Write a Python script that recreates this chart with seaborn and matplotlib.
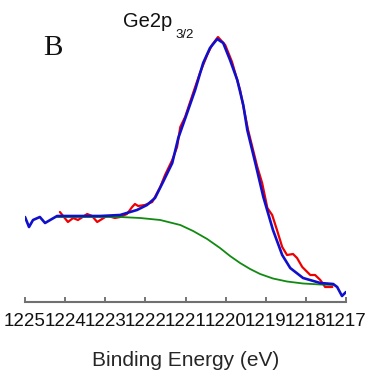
import matplotlib
matplotlib.use("Agg")
import matplotlib.pyplot as plt
import seaborn as sns
import pandas as pd

# Raw spectrum (red)
data_energy = [1224.13, 1223.93, 1223.80, 1223.68, 1223.45, 1223.33, 1223.20, 1223.00,
               1222.93, 1222.76, 1222.63, 1222.46, 1222.33, 1222.26, 1222.18, 1222.01,
               1221.83, 1221.76, 1221.63, 1221.51, 1221.33, 1221.21, 1221.13, 1221.01,
               1220.81, 1220.64, 1220.46, 1220.34, 1220.19, 1220.01, 1219.84, 1219.64,
               1219.44, 1219.21, 1219.09, 1218.96, 1218.84, 1218.72, 1218.59, 1218.47,
               1218.32, 1218.22, 1218.09, 1217.89, 1217.77, 1217.64, 1217.52, 1217.34]
data_intensity = [90, 80, 84, 82, 88, 86, 80, 85,
                  86, 84, 85, 88, 95, 98, 96, 97,
                  100, 105, 115, 127, 142, 155, 175, 185,
                  209, 229, 247, 257, 265, 257, 240, 212,
                  172, 135, 119, 94, 87, 72, 55, 47,
                  48, 44, 35, 27, 27, 22, 15, 15]

# Fit envelope (blue), including the raw edges outside the fit window
fit_energy = [1225.00, 1224.90, 1224.80, 1224.63, 1224.50, 1224.33, 1224.20,
              1223.63, 1223.13, 1222.63, 1222.38, 1222.21, 1221.96, 1221.76, 1221.56,
              1221.33, 1221.18, 1220.96, 1220.76, 1220.56, 1220.39, 1220.21,
              1220.06, 1219.89, 1219.71, 1219.56, 1219.46, 1219.26, 1219.06, 1218.82,
              1218.59, 1218.39, 1218.07, 1217.64, 1217.32, 1217.22, 1217.10, 1217.00]
fit_intensity = [85, 75, 82, 85, 79, 83, 86,
                 86, 86, 87, 90, 92, 97, 104, 120,
                 139, 164, 189, 212, 239, 254, 263,
                 259, 242, 222, 197, 172, 139, 105, 72,
                 47, 34, 24, 19, 18, 15, 6, 10]

# Shirley background (green)
bg_energy = [1224.20, 1223.13, 1222.63, 1222.13, 1221.63, 1221.13, 1220.81, 1220.46,
             1220.14, 1219.89, 1219.64, 1219.39, 1219.14, 1218.82, 1218.47, 1218.07,
             1217.64, 1217.32]
bg_intensity = [85, 85, 85, 84, 82, 77, 71, 63,
                54, 46, 39, 33, 28, 23.5, 20.5, 18.5,
                17.5, 17]

x_ticks = [1225, 1224, 1223, 1222, 1221, 1220, 1219, 1218, 1217]

sns.set_style("white")
plt.rcParams['font.family'] = ['Liberation Sans', 'DejaVu Sans']

W, H = 371, 379
fig = plt.figure(figsize=(W / 100, H / 100), dpi=100)
ax = fig.add_axes([25 / W, 77 / H, 321 / W, 282 / H])

df_data = pd.DataFrame({"E": data_energy, "I": data_intensity})
df_fit = pd.DataFrame({"E": fit_energy, "I": fit_intensity})
df_bg = pd.DataFrame({"E": bg_energy, "I": bg_intensity})

sns.lineplot(data=df_data, x="E", y="I", ax=ax, color="#ee0000", lw=1.6,
             sort=False, estimator=None)
sns.lineplot(data=df_bg, x="E", y="I", ax=ax, color="#108a10", lw=1.3,
             sort=False, estimator=None)
sns.lineplot(data=df_fit, x="E", y="I", ax=ax, color="#1010cc", lw=1.9,
             sort=False, estimator=None)

ax.set_xlim(1225, 1217)
ax.set_ylim(0, 282)
ax.set_xticks(x_ticks)
ax.set_xticklabels([str(t) for t in x_ticks])
ax.set_yticks([])
ax.set_ylabel("")
ax.set_xlabel("Binding Energy (eV)", fontsize=15, labelpad=15)
for s in ["top", "left", "right"]:
    ax.spines[s].set_visible(False)
ax.spines["bottom"].set_color("#707070")
ax.spines["bottom"].set_linewidth(1.5)
ax.tick_params(axis="x", direction="in", length=3.5, width=1.1, color="#505050",
               labelsize=13.5, pad=8, labelcolor="#111111", bottom=True)
ax.patch.set_alpha(0)

fig.text(43 / W, 1 - 55 / H, "B", fontsize=21, family=["Liberation Serif", "DejaVu Serif"],
         ha="left", va="baseline", color="#111111")
fig.text(123 / W, 1 - 27 / H, "Ge2p", fontsize=14.5, ha="left", va="baseline", color="#111111")
fig.text(175 / W, 1 - 38 / H, "3/2", fontsize=9.5, ha="left", va="baseline", color="#111111")

fig.savefig("out.png", dpi=100)
